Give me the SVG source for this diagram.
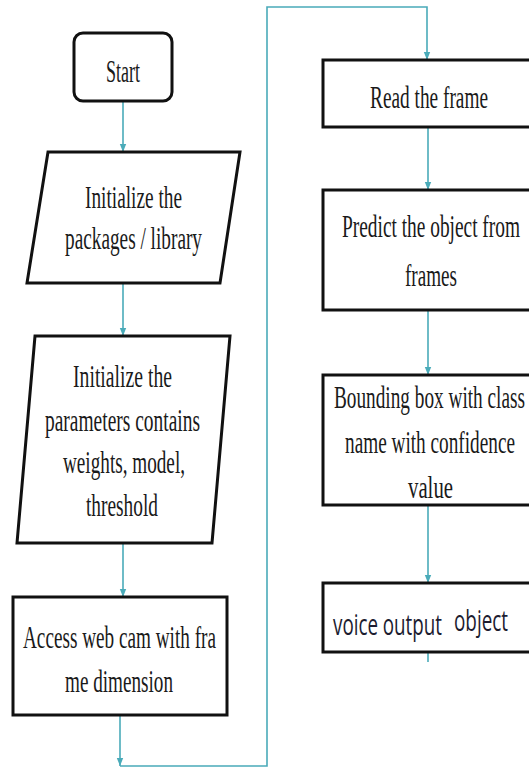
<svg xmlns="http://www.w3.org/2000/svg" width="529" height="767" viewBox="0 0 529 767">
<style>
.box{fill:#fff;stroke:#111;stroke-width:3}
.t{font-family:"Liberation Serif","Times New Roman",serif;font-size:32px;fill:#1a1a1a}
.s{font-family:"Open Sans","Noto Sans",sans-serif;font-size:30px;fill:#1c1c30}
.c{fill:none;stroke:#4aabb9;stroke-width:1.6}
</style>
<defs>
<marker id="ah" markerUnits="userSpaceOnUse" markerWidth="8" markerHeight="11" refX="10" refY="4" orient="auto" viewBox="0 0 10 8">
<path d="M0,0 L10,4 L0,8 z" fill="#4aabb9"/>
</marker>
</defs>
<rect width="529" height="767" fill="#fff"/>
<g id="connectors">
<path class="c" d="M123,101 V152" marker-end="url(#ah)"/>
<path class="c" d="M123,283 V336" marker-end="url(#ah)"/>
<path class="c" d="M123,543 V597" marker-end="url(#ah)"/>
<path class="c" d="M120,715 V766" marker-end="url(#ah)"/>
<path class="c" d="M120,766 H267 V7 H427 V60" marker-end="url(#ah)"/>
<path class="c" d="M428,127 V190" marker-end="url(#ah)"/>
<path class="c" d="M428,310 V375" marker-end="url(#ah)"/>
<path class="c" d="M428,505 V583" marker-end="url(#ah)"/>
<path class="c" d="M428,652 V662"/>
</g>
<g id="start">
<rect class="box" x="74" y="33" width="98" height="68" rx="9"/>
<text class="t" x="106" y="82" textLength="34" lengthAdjust="spacingAndGlyphs">Start</text>
</g>
<g id="init-packages">
<polygon class="box" points="48,152 240,152 220,283 27,283"/>
<text class="t" x="85" y="208" textLength="97" lengthAdjust="spacingAndGlyphs">Initialize the</text>
<text class="t" x="65" y="249" textLength="137" lengthAdjust="spacingAndGlyphs">packages / library</text>
</g>
<g id="init-params">
<polygon class="box" points="35,336 230,336 212,543 17,543"/>
<text class="t" x="73" y="387" textLength="99" lengthAdjust="spacingAndGlyphs">Initialize the</text>
<text class="t" x="45" y="431" textLength="155" lengthAdjust="spacingAndGlyphs">parameters contains</text>
<text class="t" x="63" y="473" textLength="122" lengthAdjust="spacingAndGlyphs">weights, model,</text>
<text class="t" x="86" y="516" textLength="72" lengthAdjust="spacingAndGlyphs">threshold</text>
</g>
<g id="access-webcam">
<rect class="box" x="13" y="597" width="214" height="118"/>
<text class="t" x="23" y="648" textLength="193" lengthAdjust="spacingAndGlyphs">Access web cam with fra</text>
<text class="t" x="65" y="692" textLength="108" lengthAdjust="spacingAndGlyphs">me dimension</text>
</g>
<g id="read-frame">
<rect class="box" x="323" y="60" width="220" height="67"/>
<text class="t" x="370" y="108" textLength="118" lengthAdjust="spacingAndGlyphs">Read the frame</text>
</g>
<g id="predict">
<rect class="box" x="323" y="190" width="220" height="120"/>
<text class="t" x="342" y="237" textLength="178" lengthAdjust="spacingAndGlyphs">Predict the object from</text>
<text class="t" x="405" y="286" textLength="52" lengthAdjust="spacingAndGlyphs">frames</text>
</g>
<g id="bounding-box">
<rect class="box" x="323" y="375" width="220" height="130"/>
<text class="t" x="334" y="408" textLength="191" lengthAdjust="spacingAndGlyphs">Bounding box with class</text>
<text class="t" x="345" y="453" textLength="170" lengthAdjust="spacingAndGlyphs">name with confidence</text>
<text class="t" x="408" y="498" textLength="45" lengthAdjust="spacingAndGlyphs">value</text>
</g>
<g id="voice-output">
<rect class="box" x="323" y="583" width="220" height="69"/>
<text class="s"><tspan x="333" y="635" textLength="109" lengthAdjust="spacingAndGlyphs">voice output</tspan><tspan x="454" y="631" textLength="54" lengthAdjust="spacingAndGlyphs">object</tspan></text>
</g>
</svg>
